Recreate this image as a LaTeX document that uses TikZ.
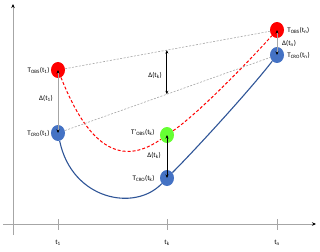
\documentclass[tikz,border=0pt]{standalone}
\usepackage{fontspec}
\setmainfont{Carlito}
\usepackage{tikz}
\usetikzlibrary{arrows.meta, calc, positioning, shapes.geometric}
\definecolor{obsred}{RGB}{255,0,0}
\definecolor{croblue}{RGB}{68,114,196}
\definecolor{crodark}{RGB}{47,85,151}
\definecolor{obsgreen}{RGB}{102,255,51}
\definecolor{axisgray}{RGB}{166,166,166}

\begin{document}
\begin{tikzpicture}[x=1pt, y=-1pt, >=Stealth,
  dot/.style={ellipse, minimum width=14pt, minimum height=16pt, inner sep=0pt},
  lbl/.style={font=\fontsize{7}{8}\selectfont, inner sep=0pt},
  axis/.style={axisgray, line width=0.9pt},
  guide/.style={axisgray, line width=0.6pt, dash pattern=on 2pt off 1.5pt},
  gap/.style={{Stealth[black, length=3.5pt, width=3pt]}-{Stealth[black, length=3.5pt, width=3pt]}, line width=0.8pt}]

\useasboundingbox (0,0) rectangle (320,251);

% --- Axes ---
\coordinate (ytop) at (13,4);
\coordinate (xend) at (316,224);
\draw[axis, -{Stealth[black, length=4pt, width=3.5pt]}] (13,235) -- (ytop);
\draw[axis, -{Stealth[black, length=4pt, width=3.5pt]}] (3,224) -- (xend);
\foreach \x/\t in {58/1,167/k,277/n} {
  \draw[axis] (\x,219) -- (\x,230);
  \node[lbl] (tick\t) at (\x,243) {t\textsubscript{\t}};
}

% --- Points ---
\node[dot, fill=obsred] (obs1) at (58,70) {};
\node[dot, fill=croblue] (cro1) at (58,133) {};
\node[dot, fill=obsgreen] (obsk) at (167,135) {};
\node[dot, fill=croblue] (crok) at (167,178) {};
\node[dot, fill=obsred] (obsn) at (277,30) {};
\node[dot, fill=croblue] (cron) at (277,55) {};

% --- Curves ---
\draw[obsred, line width=1pt, dash pattern=on 3pt off 2pt] (obs1) .. controls (80,125) and (110,175) .. (obsk);
\draw[obsred, line width=1pt, dash pattern=on 3pt off 2pt] (obsk) .. controls (200,112) and (250,60) .. (obsn);
\draw[crodark, line width=1.1pt] (cro1) .. controls (72,200) and (135,212) .. (crok);
\draw[crodark, line width=1.1pt] (crok) .. controls (195,150) and (250,90) .. (cron);

% --- Guides ---
\draw[guide] (obs1) -- (obsn);
\draw[guide] (cro1) -- (cron);
\coordinate (gk1) at ($(obs1)!0.497!(obsn)$);
\coordinate (gk2) at ($(cro1)!0.497!(cron)$);

% --- Gaps ---
\draw[gap, axisgray] (cro1.center) -- (obs1.center);
\draw[gap, black] (gk1) -- (gk2);
\draw[gap, black] (crok.center) -- (obsk.center);
\draw[gap, axisgray] (cron.center) -- (obsn.center);

% --- Labels ---
\node[lbl, left=1pt of obs1] (tobs1) {T\textsubscript{OBS}(t\textsubscript{1})};
\node[lbl, left=1pt of cro1] (tcro1) {T\textsubscript{CRO}(t\textsubscript{1})};
\node[lbl] (d1) at (46,98) {Δ(t\textsubscript{1})};
\node[lbl] (dk1) at (155,75) {Δ(t\textsubscript{k})};
\node[lbl, left=5pt of obsk, yshift=3pt] (tobsk) {T'\textsubscript{OBS}(t\textsubscript{k})};
\node[lbl] (dk2) at (154,155) {Δ(t\textsubscript{k})};
\node[lbl, left=5pt of crok] (tcrok) {T\textsubscript{CRO}(t\textsubscript{k})};
\node[lbl, right=3pt of obsn] (tobsn) {T\textsubscript{OBS}(t\textsubscript{n})};
\node[lbl, anchor=west] (dn) at (282,43) {Δ(t\textsubscript{n})};
\node[lbl, right=3pt of cron] (tcron) {T\textsubscript{CRO}(t\textsubscript{n})};

\end{tikzpicture}
\end{document}
